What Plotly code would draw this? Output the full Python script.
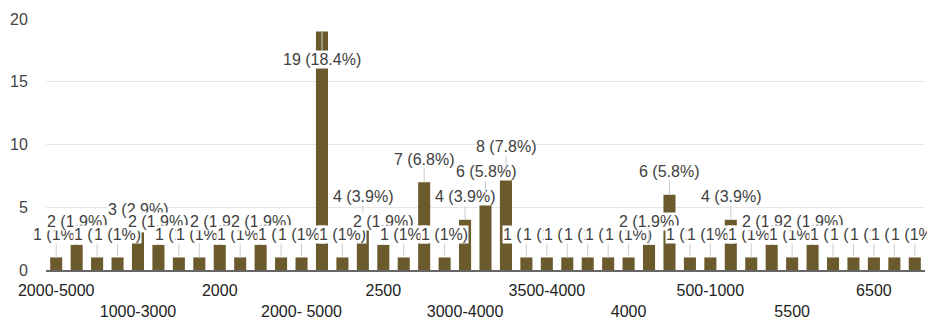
import plotly.graph_objects as go

# Response categories (answers as typed) and their counts
categories = [
    " 2000-5000", "1000", "1000-1500", "1000-2000", "1000-3000", "1500",
    "1500-2000", "1500-3000", "2000", "2000-2500", "2000-3000", "2000-4000",
    "2000- 5000", "2000-5000", "2000-6000", "2000-7000", "2500", "2500-3000",
    "3000", "3000-3500", "3000-4000", "3000-5000", "3500", "3500 - 4000",
    "3500-4000", "3500-5000", "3600", "3800", "4000", "4000-4500",
    "4000-5000", "4000-6000", "500-1000", "5000", "5000-6000", "5000-7000",
    "5500", "6000", "6000-7000", "6000-8000", "6500", "7000", "8000",
]
counts = [
    1, 2, 1, 1, 3, 2, 1, 1, 2, 1, 2, 1, 1, 19, 1, 4, 2, 1, 7, 1, 4, 6,
    8, 1, 1, 1, 1, 1, 1, 2, 6, 1, 1, 4, 1, 2, 1, 2, 1, 1, 1, 1, 1,
]
y_ticks = [0, 5, 10, 15, 20]

BAR = "#6a5a2c"
FONT = "Liberation Sans, Arial, sans-serif"

total = sum(counts)
pos = list(range(len(categories)))  # slot index of each answer


def pct(n):
    s = f"{100 * n / total:.1f}"
    if s.endswith(".0"):
        s = s[:-2]
    return s + "%"


fig = go.Figure(
    go.Bar(
        x=pos,
        y=counts,
        customdata=[c.strip() for c in categories],
        hovertemplate="%{customdata}: %{y}<extra></extra>",
        marker=dict(color=BAR, line=dict(width=0)),
    )
)

ymax = y_ticks[-1]
annotations = []
for i, n in zip(pos, counts):
    # labels sit above each bar; a bar reaching the top gets its label inside
    inside = n > ymax - 3
    annotations.append(
        dict(
            x=i,
            y=n,
            xref="x",
            yref="y",
            text=f"{n} ({pct(n)})",
            showarrow=True,
            arrowhead=0,
            arrowwidth=1,
            arrowcolor="#cccccc",
            ax=0,
            ay=28 if inside else -23,
            bgcolor="#ffffff",
            borderpad=0,
            font=dict(family=FONT, size=16, color="#404040"),
        )
    )

# every fourth category is labelled, alternating between two rows
tick_vals = pos[::4]
tick_text = [
    (categories[v].strip() if k % 2 == 0 else "<br>" + categories[v].strip())
    for k, v in enumerate(tick_vals)
]

fig.update_layout(
    width=927,
    height=320,
    margin=dict(l=46, r=2, t=19, b=50),
    paper_bgcolor="#ffffff",
    plot_bgcolor="#ffffff",
    bargap=0.41,
    showlegend=False,
    annotations=annotations,
    font=dict(family=FONT, size=16, color="#222222"),
    xaxis=dict(
        range=[-0.5, len(categories) - 0.5],
        automargin=False,
        tickmode="array",
        tickvals=tick_vals,
        ticktext=tick_text,
        tickangle=0,
        ticks="outside",
        ticklen=5,
        tickcolor="rgba(0,0,0,0)",
        tickfont=dict(family=FONT, size=16, color="#222222"),
        showline=True,
        linecolor="#666666",
        linewidth=1.5,
        showgrid=False,
        zeroline=False,
        fixedrange=True,
    ),
    yaxis=dict(
        range=[0, ymax],
        automargin=False,
        tickmode="array",
        tickvals=y_ticks,
        ticks="outside",
        ticklen=14,
        tickcolor="rgba(0,0,0,0)",
        tickfont=dict(family=FONT, size=16, color="#444444"),
        gridcolor="#e6e6e6",
        gridwidth=1,
        zeroline=False,
        showline=False,
        fixedrange=True,
    ),
)

fig.write_html("out.html")
